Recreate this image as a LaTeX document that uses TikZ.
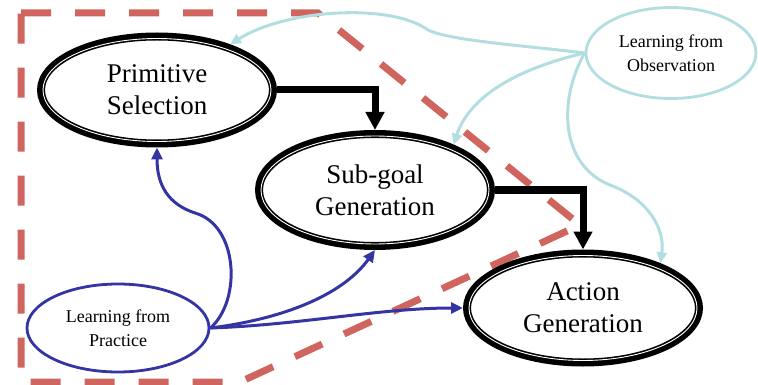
\documentclass[tikz,border=0pt]{standalone}
\usepackage{fontspec}
\setmainfont{Liberation Serif}
\usetikzlibrary{shapes.geometric,arrows.meta}
\definecolor{framered}{HTML}{D0655F}
\definecolor{practiceblue}{HTML}{3434A4}
\definecolor{observecyan}{HTML}{B2DDE1}
\begin{document}
\begin{tikzpicture}[x=1pt,y=-1pt,
  stage/.style={ellipse, draw=black, line width=8pt, inner sep=0pt,
    minimum width=232pt, align=center, font=\fontsize{27}{32}\selectfont},
  rim/.style={draw=white, line width=0.9pt},
  source/.style={ellipse, line width=2.8pt, inner sep=0pt, align=center,
    font=\fontsize{18}{24}\selectfont},
  flow/.style={line width=7pt, -{Triangle[length=18pt,width=18pt]}},
  practice/.style={draw=practiceblue, line width=3pt,
    -{Triangle[length=12pt,width=11pt]}},
  observe/.style={draw=observecyan, line width=3pt,
    -{Triangle[length=11pt,width=10pt]}},
  region/.style={draw=framered, line width=7pt, dash pattern=on 30pt off 24pt}
]
\useasboundingbox (0,0) rectangle (758,385);

% learned part of the hierarchy
\draw[region] (21,13) -- (318,13) -- (580,225) -- (240,382) -- (21,382) -- cycle;

% hierarchy stages, each with a thin white rim inside its heavy outline
\node[stage, minimum height=107pt] (ps) at (157,90) {Primitive\\Selection};
\node[stage, minimum height=112pt] (sg) at (375,190) {Sub-goal\\Generation};
\node[stage, minimum height=109pt] (ag) at (583,308) {Action\\Generation};
\draw[rim] (ps.center) ellipse [x radius=114pt, y radius=51.5pt];
\draw[rim] (sg.center) ellipse [x radius=114pt, y radius=54pt];
\draw[rim] (ag.center) ellipse [x radius=114pt, y radius=52.5pt];

% learning sources
\node[source, draw=practiceblue, minimum width=182pt, minimum height=88pt] (lp) at (118,328) {Learning from\\Practice};
\node[source, draw=observecyan, minimum width=170pt, minimum height=91pt] (lo) at (671,53) {Learning from\\Observation};

% top-down flow
\draw[flow] (ps.east) -| (sg.north);
\draw[flow] (sg.east) -| (ag.north);

% learning from practice
\coordinate (pbend) at (195,213);
\draw[practice] (lp.east) .. controls (242,300) and (238,225) .. (pbend)
  .. controls (168,204) and (157,185) .. (ps.south);
\draw[practice] (lp.east) .. controls (290,318) and (345,292) .. (sg.south);
\draw[practice] (lp.east) .. controls (300,325) and (380,308) .. (ag.west);

% learning from observation
\coordinate (obend) at (425,28);
\coordinate (abend) at (610,185);
\draw[observe] (lo.west) .. controls (520,45) and (440,40) .. (obend)
  .. controls (385,3) and (285,10) .. (ps.32);
\draw[observe] (lo.west) .. controls (520,68) and (470,95) .. (sg.30);
\draw[observe] (lo.west) .. controls (558,100) and (560,165) .. (abend)
  .. controls (650,200) and (665,230) .. (ag.30);
\end{tikzpicture}
\end{document}
